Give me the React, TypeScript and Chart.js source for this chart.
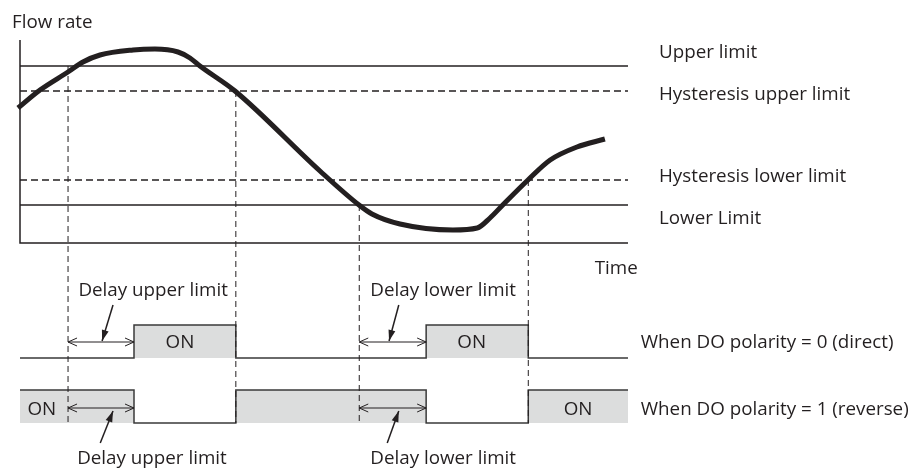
import React, { useEffect, useRef } from "react";
import { Chart, registerables } from "chart.js";
Chart.register(...registerables);

const INK = "#231f20";
const GRAY = "#dcdddd";
const FONT = "'Open Sans'";
const FONT_SIZE = 18.8;

// Flow-rate curve (time units 0..100, flow units)
const curveTime = [-0.33, 3.29, 7.89, 10.36, 13.16, 18.59, 22.2, 25.99, 27.96, 29.6, 35.36, 49.34, 55.76, 57.89, 62.5, 71.2, 75.2, 77.3, 79.4, 83.55, 87.2, 91.6, 96.2];
const curveFlow = [67.5, 76.5, 85.5, 90.5, 94, 96.5, 97, 95.5, 92.5, 88.5, 76, 36, 19, 14.5, 9.5, 6.5, 7.5, 12.5, 19, 31.5, 41.5, 48, 52];

// Limits
const UPPER_LIMIT = 88.5;
const HYST_UPPER = 76;
const HYST_LOWER = 31.5;
const LOWER_LIMIT = 19;
const AXIS_TOP = 101.5;
const T_END = 100;

// Event times
const T_UP_CROSS = 7.9;
const T_HYS_UP = 35.5;
const T_LOW_CROSS = 55.8;
const T_HYS_LOW = 83.6;
const T_UP_ON = 18.75;
const T_LOW_ON = 66.8;

// Output signals
const signalTimes = [0, T_UP_ON, T_HYS_UP, T_LOW_ON, T_HYS_LOW, T_END];
const directStates = [0, 1, 0, 1, 0, 0];
const reverseStates = [1, 0, 1, 0, 1, 1];
const DIRECT_LOW = -57.5;
const DIRECT_HIGH = -41;
const REVERSE_LOW = -90;
const REVERSE_HIGH = -73.5;
const DIRECT_ARROW_Y = -49.5;
const REVERSE_ARROW_Y = -82.5;

// Pointer arrows [x0, y0, x1(tip), y1(tip)]
const pointerArrows = [
  [15.3, -31, 13.5, -49],
  [13.2, -100, 15.3, -84],
  [62.3, -31, 60.7, -49],
  [60.4, -100, 62.3, -84],
];

// Double-headed delay arrows [xStart, xEnd, y]
const delayArrows = [
  [T_UP_CROSS, T_UP_ON, DIRECT_ARROW_Y],
  [T_UP_CROSS, T_UP_ON, REVERSE_ARROW_Y],
  [T_LOW_CROSS, T_LOW_ON, DIRECT_ARROW_Y],
  [T_LOW_CROSS, T_LOW_ON, REVERSE_ARROW_Y],
];

// Text labels
const labelTexts = [
  "Flow rate", "Time", "Upper limit", "Hysteresis upper limit", "Hysteresis lower limit", "Lower Limit",
  "When DO polarity = 0 (direct)", "When DO polarity = 1 (reverse)",
  "Delay upper limit", "Delay upper limit", "Delay lower limit", "Delay lower limit",
  "ON", "ON", "ON", "ON",
];
const labelX = [-1.3, 101.6, 105.1, 105.1, 105.1, 105.1, 102.1, 102.1, 21.9, 21.7, 69.6, 69.6, 26.3, 74.3, 3.6, 91.8];
const labelY = [110.5, -12.5, 95.5, 74.5, 33.5, 12.5, -49.5, -83, -23.5, -107.5, -23.5, -107.5, -49.5, -49.5, -83, -83];
const labelAlign = ["left", "right", "left", "left", "left", "left", "left", "left", "center", "center", "center", "center", "center", "center", "center", "center"];

const X_MIN = -1.974;
const X_MAX = 147.37;
const Y_MIN = -114;
const Y_MAX = 117.5;

function seg(x0: number, y0: number, x1: number, y1: number) {
  return [{ x: x0, y: y0 }, { x: x1, y: y1 }];
}

const overlayPlugin = {
  id: "overlay",
  afterDatasetsDraw(chart: any) {
    const ctx = chart.ctx;
    const xs = chart.scales.x;
    const ys = chart.scales.y;
    const px = (v: number) => xs.getPixelForValue(v);
    const py = (v: number) => ys.getPixelForValue(v);
    ctx.save();
    ctx.strokeStyle = INK;
    ctx.fillStyle = INK;
    ctx.lineWidth = 1;
    // open arrowheads for delay arrows
    delayArrows.forEach(([a, b, y]) => {
      const xa = px(a), xb = px(b), yy = py(y);
      const L = 9, H = 4;
      ctx.beginPath();
      ctx.moveTo(xa + L, yy - H); ctx.lineTo(xa, yy); ctx.lineTo(xa + L, yy + H);
      ctx.moveTo(xb - L, yy - H); ctx.lineTo(xb, yy); ctx.lineTo(xb - L, yy + H);
      ctx.stroke();
    });
    // filled heads for pointer arrows
    pointerArrows.forEach(([x0, y0, x1, y1]) => {
      const ax = px(x0), ay = py(y0), bx = px(x1), by = py(y1);
      const ang = Math.atan2(by - ay, bx - ax);
      const L = 11, W = 3.5;
      const cx = bx - L * Math.cos(ang), cy = by - L * Math.sin(ang);
      ctx.beginPath();
      ctx.moveTo(bx, by);
      ctx.lineTo(cx + W * Math.sin(ang), cy - W * Math.cos(ang));
      ctx.lineTo(cx - W * Math.sin(ang), cy + W * Math.cos(ang));
      ctx.closePath();
      ctx.fill();
    });
    // texts
    ctx.font = `${FONT_SIZE}px ${FONT}`;
    ctx.textBaseline = "middle";
    labelTexts.forEach((t, i) => {
      ctx.textAlign = labelAlign[i];
      ctx.fillText(t, px(labelX[i]), py(labelY[i]) + 1);
    });
    ctx.restore();
  },
};

export default function App() {
  const ref = useRef<HTMLCanvasElement>(null);
  useEffect(() => {
    if (!ref.current) return;
    const lineBase = { pointRadius: 0, borderColor: INK, fill: false, tension: 0 };
    const datasets: any[] = [];
    // signals
    datasets.push({
      ...lineBase,
      data: signalTimes.map((t, i) => ({ x: t, y: directStates[i] ? DIRECT_HIGH : DIRECT_LOW })),
      stepped: "before",
      borderWidth: 1.5,
      borderColor: "#3a3a3a",
      backgroundColor: GRAY,
      fill: { value: DIRECT_LOW },
    });
    datasets.push({
      ...lineBase,
      data: signalTimes.map((t, i) => ({ x: t, y: reverseStates[i] ? REVERSE_HIGH : REVERSE_LOW })),
      stepped: "before",
      borderWidth: 1.5,
      borderColor: "#3a3a3a",
      backgroundColor: GRAY,
      fill: { value: REVERSE_LOW },
    });
    // vertical dashed lines
    [[T_UP_CROSS, UPPER_LIMIT], [T_HYS_UP, HYST_UPPER], [T_LOW_CROSS, LOWER_LIMIT], [T_HYS_LOW, HYST_LOWER]].forEach(([t, y]) => {
      datasets.push({ ...lineBase, data: seg(t, y, t, REVERSE_LOW), borderWidth: 1, borderDash: [6, 4] });
    });
    // axes
    datasets.push({ ...lineBase, data: [{ x: 0, y: AXIS_TOP }, { x: 0, y: 0 }, { x: T_END, y: 0 }], borderWidth: 1.5 });
    // limits
    datasets.push({ ...lineBase, data: seg(0, UPPER_LIMIT, T_END, UPPER_LIMIT), borderWidth: 1.5 });
    datasets.push({ ...lineBase, data: seg(0, LOWER_LIMIT, T_END, LOWER_LIMIT), borderWidth: 1.5 });
    datasets.push({ ...lineBase, data: seg(0, HYST_UPPER, T_END, HYST_UPPER), borderWidth: 1.5, borderDash: [7, 4] });
    datasets.push({ ...lineBase, data: seg(0, HYST_LOWER, T_END, HYST_LOWER), borderWidth: 1.5, borderDash: [7, 4] });
    // delay arrows shafts
    delayArrows.forEach(([a, b, y]) => datasets.push({ ...lineBase, data: seg(a, y, b, y), borderWidth: 1 }));
    // pointer arrows shafts
    pointerArrows.forEach(([x0, y0, x1, y1]) => datasets.push({ ...lineBase, data: seg(x0, y0, x1, y1), borderWidth: 1.5 }));
    // curve
    datasets.push({
      ...lineBase,
      data: curveTime.map((t, i) => ({ x: t, y: curveFlow[i] })),
      borderWidth: 5,
      cubicInterpolationMode: "monotone",
    });
    // Chart.js paints lower-index datasets on top: put the curve first
    datasets.reverse();

    const chart = new Chart(ref.current, {
      type: "line",
      data: { datasets },
      options: {
        responsive: false,
        animation: false,
        events: [],
        layout: { padding: 0 },
        plugins: { legend: { display: false }, tooltip: { enabled: false } },
        scales: {
          x: { type: "linear", min: X_MIN, max: X_MAX, display: false },
          y: { type: "linear", min: Y_MIN, max: Y_MAX, display: false },
        },
      },
      plugins: [overlayPlugin],
    });
    return () => chart.destroy();
  }, []);
  return <canvas ref={ref} width={908} height={463} style={{ display: "block" }} />;
}
